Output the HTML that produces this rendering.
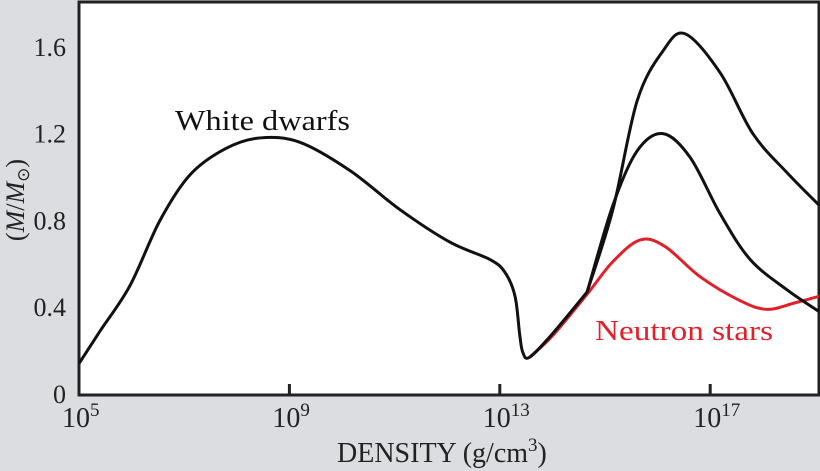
<!DOCTYPE html>
<html><head><meta charset="utf-8"><style>
html,body{margin:0;padding:0;background:#dcdde0;}
svg{display:block;font-family:"Liberation Serif",serif;}
</style></head><body>
<svg width="820" height="471" viewBox="0 0 820 471">
<rect x="79" y="2" width="740" height="393" fill="#fff" stroke="#222" stroke-width="3"/>
<g id="ticks"></g>
<g id="series"></g>
<text x="175" y="130" font-size="29" textLength="175" lengthAdjust="spacingAndGlyphs" fill="#111">White dwarfs</text>
<text x="595" y="340" font-size="29" textLength="178" lengthAdjust="spacingAndGlyphs" fill="#e0202a">Neutron stars</text>
<text x="337" y="462" font-size="28" fill="#222">DENSITY (g/cm<tspan font-size="19" dy="-11">3</tspan><tspan dy="11">)</tspan></text>
<text transform="translate(24,200) rotate(-90)" font-size="26" fill="#222" text-anchor="middle">(<tspan font-style="italic">M</tspan>/<tspan font-style="italic">M</tspan><tspan font-size="17" dy="5">⊙</tspan><tspan dy="-5">)</tspan></text>
</svg>
<script>
const xTicks=[5,9,13,17];
const yTicks=[0,0.4,0.8,1.2,1.6];
const yTickLabels=["0","0.4","0.8","1.2","1.6"];
const wdLog=[5,5.4,5.97,6.54,7.11,7.78,8.44,9.2,10.15,11.1,12.05,12.81,13.1,13.29,13.38,13.44,13.57,14.01,14.66];
const wdM=[0.14,0.29,0.50,0.80,1.01,1.13,1.18,1.16,1.03,0.85,0.70,0.62,0.56,0.45,0.27,0.19,0.17,0.28,0.47];
const upLog=[14.66,15.15,15.61,16.1,16.52,17.19,17.81,18.46,19.07];
const upM=[0.47,0.85,1.35,1.58,1.66,1.48,1.20,1.02,0.87];
const midLog=[14.66,15.15,15.61,16.1,16.62,17.19,17.76,18.46,19.07];
const midM=[0.47,0.87,1.12,1.20,1.09,0.83,0.62,0.48,0.38];
const redLog=[13.57,14.01,14.66,15.15,15.67,16.14,16.81,17.57,18.08,18.61,19.07];
const redM=[0.17,0.27,0.46,0.61,0.71,0.68,0.54,0.43,0.39,0.42,0.45];
const X=l=>79+(l-5)*52.6, Y=m=>394-m*217;
const NS="http://www.w3.org/2000/svg";
const tg=document.getElementById('ticks'), sg=document.getElementById('series');
xTicks.forEach(t=>{
  const ln=document.createElementNS(NS,'line');
  ln.setAttribute('x1',X(t));ln.setAttribute('x2',X(t));ln.setAttribute('y1',395);ln.setAttribute('y2',384);
  ln.setAttribute('stroke','#222');ln.setAttribute('stroke-width',3);
  
  
  tg.appendChild(ln);
  const tx=document.createElementNS(NS,'text');
  tx.setAttribute('x',X(t)-17);tx.setAttribute('y',427);tx.setAttribute('font-size',28);tx.setAttribute('fill','#222');
  tx.innerHTML='10<tspan font-size="19" dy="-11">'+t+'</tspan>';
  
  
  tg.appendChild(tx);
});
yTicks.forEach((t,i)=>{
  const tx=document.createElementNS(NS,'text');
  tx.setAttribute('x',66);tx.setAttribute('y',Y(t)+9);tx.setAttribute('font-size',26);tx.setAttribute('fill','#222');tx.setAttribute('text-anchor','end');
  tx.textContent=yTickLabels[i];
  
  
  tg.appendChild(tx);
});
function path(ls,ms){
  const p=ls.map((l,i)=>[X(l),Y(ms[i])]);
  let d='M'+p[0][0]+','+p[0][1];
  for(let i=0;i<p.length-1;i++){
    const p0=p[Math.max(0,i-1)],p1=p[i],p2=p[i+1],p3=p[Math.min(p.length-1,i+2)];
    const c1=[p1[0]+(p2[0]-p0[0])/6,p1[1]+(p2[1]-p0[1])/6];
    const c2=[p2[0]-(p3[0]-p1[0])/6,p2[1]-(p3[1]-p1[1])/6];
    d+=' C'+c1+' '+c2+' '+p2;
  }
  return d;
}
function add(ls,ms,col,name){
  const pa=document.createElementNS(NS,'path');
  pa.setAttribute('d',path(ls,ms));pa.setAttribute('fill','none');pa.setAttribute('stroke',col);pa.setAttribute('stroke-width',3);
  pa.setAttribute('stroke-linejoin','round');
  
  
  sg.appendChild(pa);
}
add(redLog,redM,'#e0202a','neutron-star-curve-red');
add(wdLog,wdM,'#111','white-dwarf-curve');
add(upLog,upM,'#111','neutron-star-curve-upper');
add(midLog,midM,'#111','neutron-star-curve-middle');
</script>
</body></html>
